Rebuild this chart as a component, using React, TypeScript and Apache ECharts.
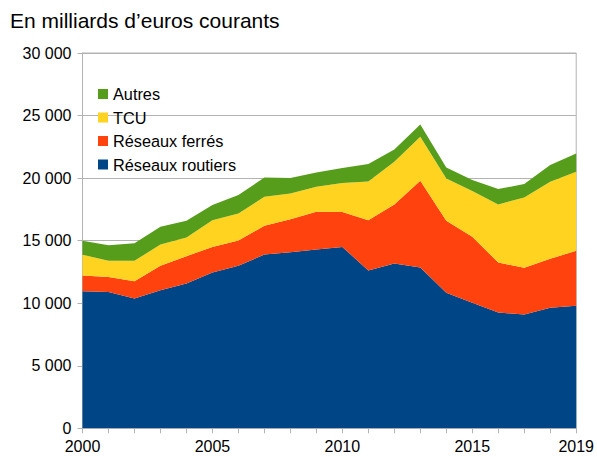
import React, { useEffect, useRef } from "react";
import * as echarts from "echarts";

const years = ["2000","2001","2002","2003","2004","2005","2006","2007","2008","2009","2010","2011","2012","2013","2014","2015","2016","2017","2018","2019"];
const routiers = [10950,10900,10370,11040,11570,12450,12990,13890,14080,14290,14500,12610,13170,12850,10830,10030,9250,9090,9630,9790];
const ferres = [1260,1200,1390,1950,2190,2050,2020,2300,2640,3020,2800,4030,4720,6940,5760,5280,4000,3740,3920,4400];
const tcu = [1660,1290,1630,1700,1490,2140,2160,2320,2050,2000,2300,3090,3420,3520,3380,3650,4640,5620,6160,6320];
const autres = [1120,1250,1410,1420,1340,1200,1470,1540,1230,1140,1200,1390,980,980,880,880,1230,1070,1330,1460];

const FONT = "'Liberation Sans', Arial, sans-serif";
const GRID = "#b3b3b3";

function fmt(v: number): string {
  return String(v).replace(/\B(?=(\d{3})+(?!\d))/g, " ");
}

export default function App() {
  const ref = useRef<HTMLDivElement>(null);
  useEffect(() => {
    if (!ref.current) return;
    const chart = echarts.init(ref.current, undefined, { renderer: "svg" });
    const mk = (name: string, data: number[], color: string) => ({
      name,
      type: "line",
      stack: "total",
      data,
      symbol: "none",
      lineStyle: { width: 0 },
      areaStyle: { color, opacity: 1 },
      itemStyle: { color },
    });
    chart.setOption({
      animation: false,
      textStyle: { fontFamily: FONT },
      title: {
        text: "En milliards d’euros courants",
        left: 5,
        top: 5,
        textStyle: { fontFamily: FONT, fontSize: 21, fontWeight: "normal", color: "#000" },
      },
      legend: {
        orient: "vertical",
        left: 93,
        top: 81,
        itemWidth: 10,
        itemHeight: 10,
        itemGap: 7.5,
        icon: "rect",
        data: ["Autres", "TCU", "Réseaux ferrés", "Réseaux routiers"],
        textStyle: { fontFamily: FONT, fontSize: 16.3, lineHeight: 16, color: "#000", padding: [0, 0, 0, 0] },
      },
      grid: {
        left: 82.5,
        right: 20.5,
        top: 53,
        bottom: 28.7,
        show: true,
        borderColor: GRID,
        borderWidth: 1,
        containLabel: false,
      },
      xAxis: {
        type: "category",
        data: years,
        boundaryGap: false,
        axisLine: { lineStyle: { color: GRID } },
        axisTick: { show: true, interval: 0, length: 5, lineStyle: { color: GRID } },
        axisLabel: {
          interval: (i: number) => i % 5 === 0 || i === years.length - 1,
          showMinLabel: true,
          showMaxLabel: true,
          margin: 10,
          fontFamily: FONT,
          fontSize: 16,
          color: "#000",
        },
        splitLine: { show: false },
      },
      yAxis: {
        type: "value",
        min: 0,
        max: 30000,
        interval: 5000,
        axisLine: { show: true, lineStyle: { color: GRID } },
        axisTick: { show: true, length: 5, lineStyle: { color: GRID } },
        axisLabel: { margin: 11, fontFamily: FONT, fontSize: 16, color: "#000", formatter: (v: number) => fmt(v) },
        splitLine: { lineStyle: { color: GRID, width: 1 } },
      },
      series: [
        mk("Réseaux routiers", routiers, "#004586"),
        mk("Réseaux ferrés", ferres, "#ff420e"),
        mk("TCU", tcu, "#ffd320"),
        mk("Autres", autres, "#579d1c"),
      ],
    });
    return () => chart.dispose();
  }, []);
  return <div ref={ref} style={{ width: 597, height: 457, position: "absolute", left: 0, top: 0 }} />;
}
